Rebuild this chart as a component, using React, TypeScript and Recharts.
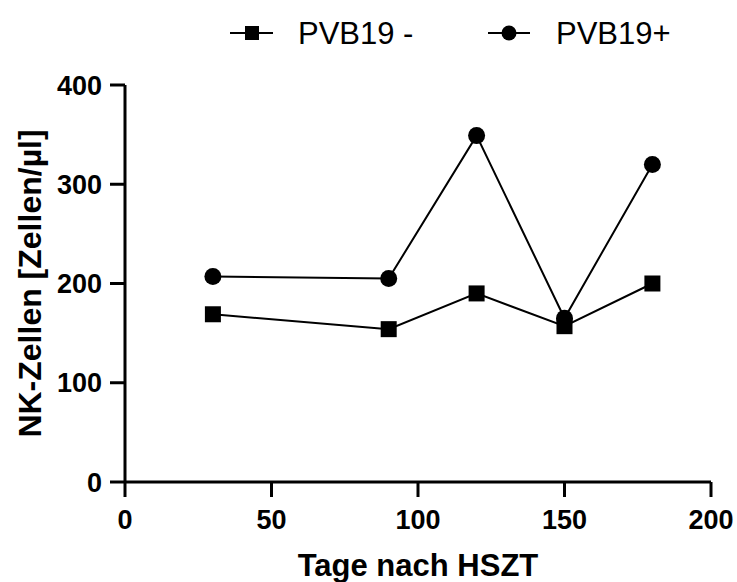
import React from 'react';
import { LineChart, Line, XAxis, YAxis, Legend } from 'recharts';

const days = [30, 90, 120, 150, 180];
const pvbNeg = [169, 154, 190, 157, 200];
const pvbPos = [207, 205, 349, 165, 320];
const xTicks = [0, 50, 100, 150, 200];
const yTicks = [0, 100, 200, 300, 400];
const seriesNames = ['PVB19 -', 'PVB19+'];
const xTitle = 'Tage nach HSZT';
const yTitle = 'NK-Zellen [Zellen/µl]';

const data = days.map((d, i) => ({ day: d, neg: pvbNeg[i], pos: pvbPos[i] }));

const FONT = '"Liberation Sans", Arial, Helvetica, sans-serif';

const SquareDot = (props: any) => {
  const { cx, cy, index } = props;
  return <rect key={`sq-${index}`} x={cx - 8} y={cy - 8} width={16} height={16} fill="#000" />;
};

const CircleDot = (props: any) => {
  const { cx, cy, index } = props;
  return <circle key={`ci-${index}`} cx={cx} cy={cy} r={8.5} fill="#000" />;
};

const LegendContent = () => (
  <svg width={737} height={60} style={{ display: 'block' }}>
    <line x1={230} y1={33} x2={273} y2={33} stroke="#000" strokeWidth={2} />
    <rect x={245} y={26} width={14} height={14} fill="#000" />
    <text x={298} y={44} fontFamily={FONT} fontSize={31} fill="#000">{seriesNames[0]}</text>
    <line x1={488} y1={33} x2={530} y2={33} stroke="#000" strokeWidth={2} />
    <circle cx={509} cy={33} r={7.5} fill="#000" />
    <text x={556} y={44} fontFamily={FONT} fontSize={31} fill="#000">{seriesNames[1]}</text>
  </svg>
);

export default function App() {
  return (
    <div style={{ position: 'absolute', left: 0, top: 0, width: 737, height: 582, background: '#fff' }}>
      <LineChart
        width={737}
        height={582}
        data={data}
        margin={{ top: 25, right: 26, left: 0, bottom: 0 }}
      >
        <Legend
          verticalAlign="top"
          align="left"
          content={<LegendContent />}
          wrapperStyle={{ position: 'absolute', top: 0, left: 0, width: 737, height: 60 }}
        />
        <XAxis
          dataKey="day"
          type="number"
          domain={[0, 200]}
          ticks={xTicks}
          allowDataOverflow
          height={100}
          tickSize={15}
          tickMargin={13}
          axisLine={{ stroke: '#000', strokeWidth: 3 }}
          tickLine={{ stroke: '#000', strokeWidth: 3 }}
          tick={{ fill: '#000', fontSize: 27, fontWeight: 'bold', fontFamily: FONT }}
          label={{ value: xTitle, position: 'insideBottom', offset: 6, fill: '#000', fontSize: 31, fontWeight: 'bold', fontFamily: FONT }}
        />
        <YAxis
          type="number"
          domain={[0, 400]}
          ticks={yTicks}
          width={125}
          tickSize={15}
          tickMargin={8}
          axisLine={{ stroke: '#000', strokeWidth: 3 }}
          tickLine={{ stroke: '#000', strokeWidth: 3 }}
          tick={{ fill: '#000', fontSize: 27, fontWeight: 'bold', fontFamily: FONT }}
          label={{ value: yTitle, angle: -90, position: 'insideLeft', offset: 30, fill: '#000', fontSize: 32, fontWeight: 'bold', fontFamily: FONT, style: { textAnchor: 'middle' } }}
        />
        <Line
          dataKey="pos"
          name={seriesNames[1]}
          stroke="#000"
          strokeWidth={2}
          dot={<CircleDot />}
          isAnimationActive={false}
        />
        <Line
          dataKey="neg"
          name={seriesNames[0]}
          stroke="#000"
          strokeWidth={2}
          dot={<SquareDot />}
          isAnimationActive={false}
        />
      </LineChart>
    </div>
  );
}
